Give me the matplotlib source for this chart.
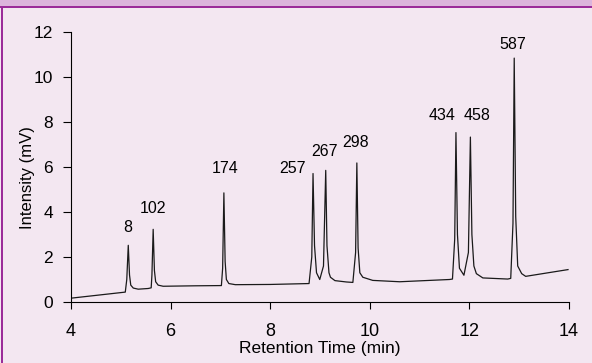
import numpy as np
import matplotlib
matplotlib.use("Agg")
import matplotlib.pyplot as plt
from matplotlib.patches import Rectangle

plt.rcParams['font.family'] = ['Liberation Sans', 'DejaVu Sans']

# chromatogram trace (time in min, intensity in mV)
time = [4.00, 5.09, 5.12, 5.15, 5.175, 5.20, 5.25, 5.35, 5.55, 5.61,
        5.625, 5.65, 5.675, 5.70, 5.75, 5.85, 6.50, 7.02,
        7.045, 7.07, 7.095, 7.12, 7.17, 7.30, 8.00, 8.78,
        8.835, 8.86, 8.89, 8.93, 8.995, 9.07, 9.115, 9.14, 9.18, 9.21, 9.30, 9.53, 9.66,
        9.715, 9.74, 9.765, 9.80, 9.86, 10.06, 10.60, 11.60, 11.66,
        11.705, 11.73, 11.76, 11.80, 11.89, 11.98, 12.02, 12.05, 12.09, 12.14, 12.27, 12.77, 12.83,
        12.875, 12.90, 12.93, 12.97, 13.05, 13.13, 13.98]
intensity = [0.17, 0.44, 1.00, 2.52, 1.20, 0.75, 0.62, 0.57, 0.60, 0.63,
             1.20, 3.23, 1.40, 0.90, 0.75, 0.70, 0.72, 0.73,
             1.50, 4.85, 1.80, 1.00, 0.82, 0.77, 0.78, 0.82,
             2.00, 5.71, 2.50, 1.30, 1.00, 1.60, 5.85, 2.50, 1.30, 1.10, 0.95, 0.89, 0.87,
             2.20, 6.18, 2.40, 1.30, 1.10, 0.96, 0.90, 1.00, 1.02,
             2.80, 7.53, 3.00, 1.50, 1.19, 2.20, 7.33, 3.00, 1.60, 1.26, 1.07, 1.02, 1.05,
             3.50, 10.84, 3.80, 1.60, 1.26, 1.14, 1.44]

# peak labels and where they sit (label baseline)
peak_labels = ['8', '102', '174', '257', '267', '298', '434', '458', '587']
label_x = [5.13, 5.65, 7.10, 8.44, 9.10, 9.71, 11.46, 12.15, 12.87]
label_y = [3.1, 3.95, 5.75, 5.75, 6.5, 6.9, 8.1, 8.1, 11.25]

bg = '#f3e7f1'
fig = plt.figure(figsize=(5.92, 3.63), dpi=100, facecolor=bg)
ax = fig.add_axes([71/592, 1 - 302/363, (569-71)/592, (302-32)/363])
ax.set_facecolor(bg)

ax.plot(time, intensity, color='#1a1a1a', lw=0.9)

for lab, x, y in zip(peak_labels, label_x, label_y):
    ax.text(x, y, lab, ha='center', va='baseline', fontsize=11.5)

ax.set_xlim(4, 14)
ax.set_ylim(0, 12)
ax.set_xticks([4, 6, 8, 10, 12, 14])
ax.set_yticks([0, 2, 4, 6, 8, 10, 12])
ax.spines['top'].set_visible(False)
ax.spines['right'].set_visible(False)
ax.tick_params(axis='x', labelsize=13, length=5, width=0.8, pad=10)
ax.tick_params(axis='y', labelsize=12.5, length=6, width=0.8, pad=7)
ax.set_xlabel('Retention Time (min)', fontsize=12.5)
ax.set_ylabel('Intensity (mV)', fontsize=12)
ax.xaxis.set_label_coords(0.5, -(341 - 302) / 270)
ax.yaxis.set_label_coords((35 - 71) / 498, (302 - 178) / 270)

# purple frame: top band and left line
fig.patches.append(Rectangle((0, 1 - 6/363), 1, 6/363, transform=fig.transFigure,
                             facecolor='#dcb5dc', edgecolor='none'))
fig.patches.append(Rectangle((0, 1 - 7.5/363), 1, 1.5/363, transform=fig.transFigure,
                             facecolor='#9b2c99', edgecolor='none'))
fig.patches.append(Rectangle((1/592, 0), 1.5/592, 1 - 6/363, transform=fig.transFigure,
                             facecolor='#9b2c99', edgecolor='none'))

fig.savefig('out.png', dpi=100, facecolor=bg)
